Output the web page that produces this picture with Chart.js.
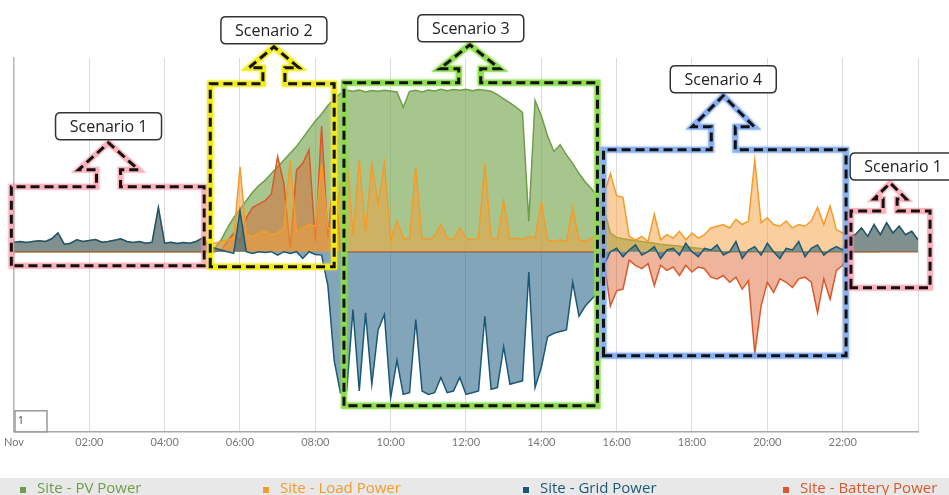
<!DOCTYPE html>
<html lang="en">
<head>
<meta charset="UTF-8">
<title>Site power - scenarios</title>
<script src="https://cdn.jsdelivr.net/npm/chart.js"></script>
<style>
  html, body { margin: 0; padding: 0; background: #fff; }
  #wrap { width: 949px; height: 495px; position: relative; }
</style>
</head>
<body>
<div id="wrap"><canvas id="chart"></canvas></div>
<script>
// one sample every 10 minutes, 00:00 -> 24:00 (145 samples), values in kW
const sampleMinutes = 10;
const tickLabels = ['Nov', '02:00', '04:00', '06:00', '08:00', '10:00', '12:00',
                    '14:00', '16:00', '18:00', '20:00', '22:00', ''];
const seriesNames = ['Site - PV Power', 'Site - Load Power', 'Site - Grid Power', 'Site - Battery Power'];

const pvPower = [
  0,0,0,0,0,0, 0,0,0,0,0,0, 0,0,0,0,0,0, 0,0,0,0,0,0, 0,0,0,0,0,0,
  0,0,0.1,0.35,0.7,1.0,
  1.25,1.5,1.75,1.95,2.1,2.3,
  2.5,2.7,2.9,3.1,3.35,3.6,
  3.85,4.05,4.3,4.5,4.65,4.75,
  4.72,4.76,4.7,4.74,4.72,4.75,
  4.73,4.7,4.25,4.72,4.75,4.7,
  4.76,4.73,4.78,4.74,4.77,4.75,
  4.78,4.74,4.77,4.75,4.72,4.62,
  4.5,4.38,4.25,4.1,0.9,4.45,
  4.0,3.4,2.95,3.15,2.85,2.6,
  2.3,2.05,1.85,1.6,1.25,0.55,
  0.42,0.38,0.35,0.32,0.3,0.27,
  0.25,0.22,0.2,0.18,0.16,0.14,
  0.12,0.1,0.07,0.04,0.02,0,
  0,0,0,0,0,0, 0,0,0,0,0,0, 0,0,0,0,0,0, 0,0,0,0,0,0,
  0
];

const loadPower = [
  0.28,0.3,0.27,0.3,0.32,0.3,
  0.38,0.55,0.22,0.25,0.35,0.3,
  0.33,0.36,0.28,0.3,0.34,0.38,
  0.3,0.27,0.3,0.25,0.28,1.3,
  0.25,0.28,0.24,0.27,0.25,0.3,
  0.4,0.25,0.25,0.3,0.35,0.4,
  2.5,0.5,0.45,0.55,0.6,0.5,
  0.55,0.7,2.7,0.6,0.7,0.8,
  0.75,2.6,0.7,0.6,1.9,2.8,
  0.5,2.7,0.6,2.6,1.4,2.6,
  0.35,0.9,0.4,0.35,2.5,0.4,
  0.35,0.45,0.8,0.4,0.35,0.7,
  0.4,0.35,0.4,2.6,0.4,0.35,
  1.5,0.35,0.4,0.35,0.45,0.4,
  1.45,0.35,0.3,0.35,0.3,1.3,
  0.35,0.3,0.4,0.5,1.7,2.3,
  1.65,1.6,0.45,0.35,0.45,0.3,
  1.1,0.35,0.5,0.4,0.6,0.35,
  0.55,0.4,0.5,0.7,0.75,0.8,
  0.7,0.95,0.8,0.9,2.7,0.85,
  1.0,0.8,0.75,0.9,0.7,0.8,
  0.75,0.9,1.3,0.8,1.35,0.65,
  0.55,0.45,0.5,0.7,0.45,0.8,
  0.5,0.85,0.55,0.75,0.5,0.6,
  0.35
];

const gridPower = [
  0.28,0.3,0.27,0.3,0.32,0.3,
  0.38,0.55,0.22,0.25,0.35,0.3,
  0.33,0.36,0.28,0.3,0.34,0.38,
  0.3,0.27,0.3,0.25,0.28,1.3,
  0.25,0.28,0.24,0.27,0.25,0.3,
  0.4,0.2,0.1,0.05,0,-0.05,
  1.2,0,-0.05,0,-0.02,0,
  -0.1,0,-0.05,0,-0.2,0,
  -0.08,-0.1,-1.0,-3.2,-4.15,-4.1,
  -1.7,-4.1,-1.8,-3.9,-2.3,-1.85,
  -4.3,-3.2,-4.2,-4.15,-2.0,-4.1,
  -4.2,-4.15,-3.7,-4.15,-4.1,-3.7,
  -4.2,-4.15,-4.1,-1.9,-4.05,-4.0,
  -2.8,-3.9,-3.85,-3.8,-0.6,-4.0,
  -3.4,-2.5,-2.4,-2.35,-2.3,-0.9,
  -1.9,-1.6,-1.4,-1.2,-0.4,0,
  0.1,-0.15,0.05,0.2,-0.1,0,
  0.15,-0.2,0.05,0.1,-0.1,0.25,
  0,-0.15,0.1,0.05,0.2,-0.1,
  0,0.3,-0.2,0.05,0.15,-0.1,
  0.25,0,-0.2,0.1,0.05,0.3,
  -0.15,0.1,0.2,-0.1,0.05,0.15,
  0.05,0.45,0.5,0.7,0.45,0.8,
  0.5,0.85,0.55,0.75,0.5,0.6,
  0.35
];

const batteryPower = [
  0,0,0,0,0,0, 0,0,0,0,0,0, 0,0,0,0,0,0, 0,0,0,0,0,0, 0,0,0,0,0,0,
  0,0,0,0.05,0.3,0.55,
  0.3,1.0,1.3,1.4,1.5,1.7,
  2.8,2.0,0.1,2.4,2.6,3.0,
  0.3,3.7,0.4,2.4,0.1,0,
  0,0,0,0,0,0, 0,0,0,0,0,0, 0,0,0,0,0,0, 0,0,0,0,0,0,
  0,0,0,0,0,0, 0,0,0,0,0,0,
  0,0,0,0,-0.3,-1.6,
  -1.15,-1.1,-0.25,-0.4,-0.5,-0.35,
  -1.0,-0.4,-0.55,-0.45,-0.7,-0.4,
  -0.6,-0.45,-0.5,-0.75,-0.8,-0.7,
  -0.9,-0.75,-1.1,-0.85,-3.0,-1.6,
  -0.9,-1.2,-0.8,-0.9,-1.05,-0.8,
  -0.75,-0.9,-1.8,-0.8,-1.4,-0.55,
  -0.4,0,0,0,0,0,
  0,0,0,0,0,0,
  0
];

const lineColors = ['#6e9e48', '#f39c2a', '#1b5876', '#d9592a'];
const fillColors = ['rgba(120,168,80,0.65)', 'rgba(245,160,60,0.5)', 'rgba(40,100,135,0.58)', 'rgba(220,95,45,0.47)'];
const drawOrder = [3, 1, 0, 2];

function toPoints(values) {
  return values.map((v, i) => ({ x: i * sampleMinutes / 60, y: v }));
}

// the dashed scenario frames with their up arrows (box in hours / kW, arrow sizes in px)
const scenarios = [
  { name: 'Scenario 1', glow: 'rgba(250,140,155,0.55)', h0: -0.07, h1: 5.05, v0: -0.41, v1: 1.91, hc: 2.51, shaft: 12, head: 30, neck: 17, tip: 44, labelDx: 0 },
  { name: 'Scenario 2', glow: 'rgba(242,234,28,0.95)', h0: 5.21, h1: 8.5, v0: -0.44, v1: 4.94, hc: 6.9, shaft: 11, head: 25, neck: 16, tip: 37, labelDx: 0 },
  { name: 'Scenario 3', glow: 'rgba(140,220,75,0.9)', h0: 8.76, h1: 15.49, v0: -4.53, v1: 4.97, hc: 12.1, shaft: 11, head: 30, neck: 14, tip: 38, labelDx: 1 },
  { name: 'Scenario 4', glow: 'rgba(120,165,240,0.75)', h0: 15.65, h1: 22.09, v0: -3.06, v1: 3.0, hc: 18.83, shaft: 12, head: 31, neck: 23, tip: 54, labelDx: 0 },
  { name: 'Scenario 1', glow: 'rgba(250,140,155,0.55)', h0: 22.22, h1: 24.32, v0: -1.06, v1: 1.2, hc: 23.26, shaft: 7, head: 16, neck: 12, tip: 28, labelDx: 13 }
];

function roundRect(ctx, x, y, w, h, r) {
  ctx.beginPath();
  ctx.moveTo(x + r, y);
  ctx.lineTo(x + w - r, y);
  ctx.quadraticCurveTo(x + w, y, x + w, y + r);
  ctx.lineTo(x + w, y + h - r);
  ctx.quadraticCurveTo(x + w, y + h, x + w - r, y + h);
  ctx.lineTo(x + r, y + h);
  ctx.quadraticCurveTo(x, y + h, x, y + h - r);
  ctx.lineTo(x, y + r);
  ctx.quadraticCurveTo(x, y, x + r, y);
  ctx.closePath();
}

const overlay = {
  id: 'overlay',
  afterDraw(chart) {
    const ctx = chart.ctx;
    const xs = chart.scales.x, ys = chart.scales.y;
    const area = chart.chartArea;

    // the small "1" box in the lower left corner
    ctx.save();
    ctx.strokeStyle = '#9a9a9a';
    ctx.lineWidth = 1.5;
    ctx.fillStyle = '#fff';
    ctx.fillRect(area.left + 1, area.bottom - 21, 32, 21);
    ctx.strokeRect(area.left + 1, area.bottom - 21, 32, 21);
    ctx.fillStyle = '#333';
    ctx.font = '10px "Open Sans"';
    ctx.textBaseline = 'middle';
    ctx.fillText('1', area.left + 4, area.bottom - 11);
    ctx.restore();

    scenarios.forEach(s => {
      const L = xs.getPixelForValue(s.h0), R = xs.getPixelForValue(s.h1);
      const T = ys.getPixelForValue(s.v1), B = ys.getPixelForValue(s.v0);
      const cx = xs.getPixelForValue(s.hc);
      const path = () => {
        ctx.beginPath();
        ctx.moveTo(L, B);
        ctx.lineTo(L, T);
        ctx.lineTo(cx - s.shaft, T);
        ctx.lineTo(cx - s.shaft, T - s.neck);
        ctx.lineTo(cx - s.head, T - s.neck);
        ctx.lineTo(cx, T - s.tip);
        ctx.lineTo(cx + s.head, T - s.neck);
        ctx.lineTo(cx + s.shaft, T - s.neck);
        ctx.lineTo(cx + s.shaft, T);
        ctx.lineTo(R, T);
        ctx.lineTo(R, B);
        ctx.closePath();
      };
      ctx.save();
      ctx.lineJoin = 'miter';
      ctx.strokeStyle = s.glow;
      ctx.shadowColor = s.glow;
      ctx.shadowBlur = 3;
      ctx.lineWidth = 6;
      path();
      ctx.stroke();
      ctx.shadowBlur = 0;
      ctx.strokeStyle = '#111';
      ctx.lineWidth = 3;
      ctx.setLineDash([9, 5]);
      path();
      ctx.stroke();
      ctx.restore();

      // label above the arrow
      const w = 106, h = 27;
      const lx = cx + s.labelDx - w / 2;
      const ly = T - s.tip - 3 - h;
      ctx.save();
      roundRect(ctx, lx, ly, w, h, 5);
      ctx.fillStyle = '#fff';
      ctx.fill();
      ctx.strokeStyle = '#333';
      ctx.lineWidth = 1.5;
      ctx.stroke();
      ctx.fillStyle = '#222';
      ctx.font = '16px "Open Sans"';
      ctx.textAlign = 'center';
      ctx.textBaseline = 'middle';
      ctx.fillText(s.name, lx + w / 2, ly + h / 2 + 1);
      ctx.restore();
    });

    // legend band at the bottom
    const legendX = [20, 263, 523, 783];
    ctx.save();
    ctx.fillStyle = '#e8e8e8';
    ctx.fillRect(0, 478, chart.width, chart.height - 478);
    ctx.font = '15px "Open Sans"';
    ctx.textBaseline = 'middle';
    seriesNames.forEach((n, i) => {
      ctx.fillStyle = lineColors[i];
      ctx.fillRect(legendX[i], 487, 6, 6);
      ctx.fillText(n, legendX[i] + 17, 489);
    });
    ctx.restore();
  }
};

new Chart(document.getElementById('chart'), {
  type: 'line',
  data: {
    datasets: [pvPower, loadPower, gridPower, batteryPower].map((vals, i) => ({
      label: seriesNames[i],
      data: toPoints(vals),
      borderColor: lineColors[i],
      backgroundColor: fillColors[i],
      borderWidth: 1.5,
      pointRadius: 0,
      tension: 0,
      fill: 'origin',
      order: drawOrder[i]
    }))
  },
  options: {
    responsive: true,
    maintainAspectRatio: false,
    animation: false,
    layout: { padding: { left: 12, right: 31, top: 58, bottom: 42 } },
    plugins: { legend: { display: false }, tooltip: { enabled: false } },
    scales: {
      x: {
        type: 'linear',
        min: 0,
        max: 24,
        ticks: {
          stepSize: 2,
          maxRotation: 0,
          autoSkip: false,
          padding: 4,
          color: '#777',
          font: { family: 'Lato', size: 11 },
          callback: v => tickLabels[v / 2]
        },
        grid: { color: '#dcdcdc', drawTicks: false },
        border: { color: '#a8a8a8', width: 1.5 }
      },
      y: {
        min: -5.3,
        max: 5.7,
        ticks: { display: false, stepSize: 1 },
        grid: {
          drawTicks: false,
          color: c => Number.isInteger(c.tick.value) ? '#e6e6e6' : 'rgba(0,0,0,0)'
        },
        border: { color: '#b5b5b5', width: 1.5 }
      }
    }
  },
  plugins: [overlay]
});
</script>
</body>
</html>
